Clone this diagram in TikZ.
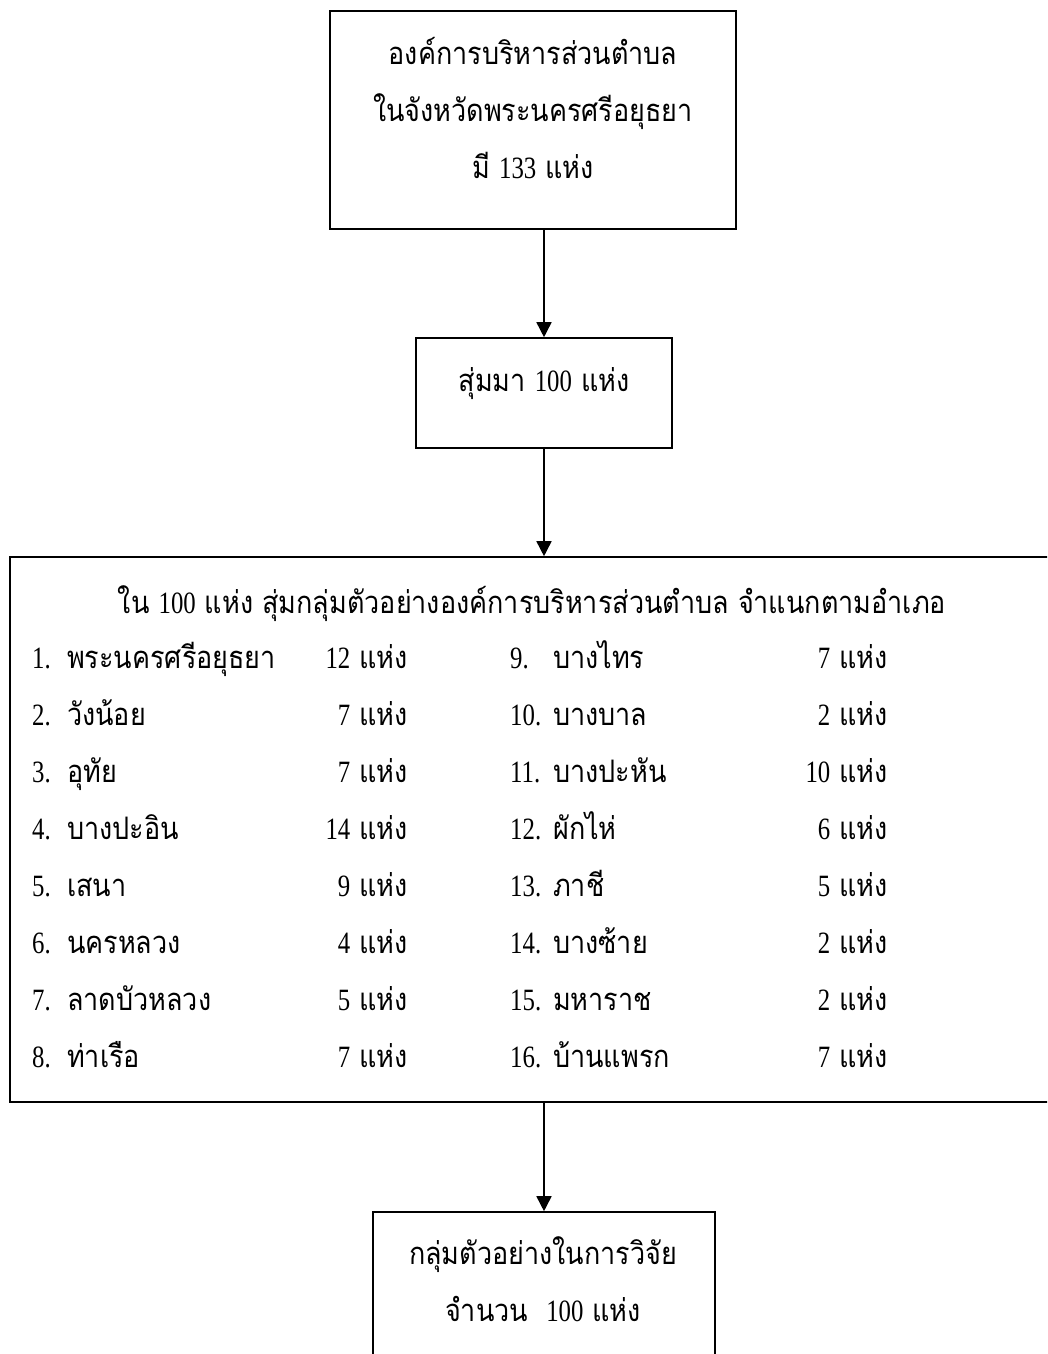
\documentclass[tikz,border=0pt]{standalone}
\usepackage{fontspec}
\setmainfont[Script=Thai, FakeStretch=0.87]{Loma}
\newfontfamily\numfont[FakeStretch=0.8]{Liberation Serif}
\usetikzlibrary{arrows.meta}
\newcommand\nm[1]{{\numfont #1}}
\newcommand\lno[1]{\makebox[35pt][l]{\nm{#1}}}
\newcommand\rno[1]{\makebox[43pt][l]{\nm{#1}}}
\tikzset{
	box/.style={draw, line width=1.6pt, inner sep=0pt},
	link/.style={line width=1.6pt, -{Triangle[length=15pt,width=15pt]}},
	txt/.style={anchor=base, inner sep=0pt, font=\fontsize{31}{38}\selectfont},
	item/.style={txt, anchor=base west},
	count/.style={txt, anchor=base east}
}

\begin{document}
\begin{tikzpicture}[x=1pt, y=-1pt]
			%%%%% START %%%%%
			\useasboundingbox (0, 0) rectangle (1047, 1354);
			\clip (0, 0) rectangle (1047, 1354);
			\fill[white] (0, 0) rectangle (1047, 1354);
			
			\node[box, minimum width=406pt, minimum height=218pt] (org) at (533, 120) {};
			\node[txt] (org1) at (533, 64) {องค์การบริหารส่วนตำบล};
			\node[txt] (org2) at (533, 121) {ในจังหวัดพระนครศรีอยุธยา};
			\node[txt] (org3) at (533, 178) {มี \nm{133} แห่ง};
			
			\node[box, minimum width=256pt, minimum height=110pt] (draw) at (544, 393) {};
			\node[txt] (draw1) at (544, 391) {สุ่มมา \nm{100} แห่ง};
			
			\node[box, minimum width=1068pt, minimum height=545pt] (list) at (544, 829.5) {};
			\node[txt] (head) at (532, 613) {ใน \nm{100} แห่ง สุ่มกลุ่มตัวอย่างองค์การบริหารส่วนตำบล จำแนกตามอำเภอ};
			
			% left column
			\node[item] (d1) at (32, 668) {\lno{1.}พระนครศรีอยุธยา};
			\node[count] (n1) at (408, 668) {\nm{12} แห่ง};
			\node[item] (d2) at (32, 725) {\lno{2.}วังน้อย};
			\node[count] (n2) at (408, 725) {\nm{7} แห่ง};
			\node[item] (d3) at (32, 782) {\lno{3.}อุทัย};
			\node[count] (n3) at (408, 782) {\nm{7} แห่ง};
			\node[item] (d4) at (32, 839) {\lno{4.}บางปะอิน};
			\node[count] (n4) at (408, 839) {\nm{14} แห่ง};
			\node[item] (d5) at (32, 896) {\lno{5.}เสนา};
			\node[count] (n5) at (408, 896) {\nm{9} แห่ง};
			\node[item] (d6) at (32, 953) {\lno{6.}นครหลวง};
			\node[count] (n6) at (408, 953) {\nm{4} แห่ง};
			\node[item] (d7) at (32, 1010) {\lno{7.}ลาดบัวหลวง};
			\node[count] (n7) at (408, 1010) {\nm{5} แห่ง};
			\node[item] (d8) at (32, 1067) {\lno{8.}ท่าเรือ};
			\node[count] (n8) at (408, 1067) {\nm{7} แห่ง};
			
			% right column
			\node[item] (d9) at (510, 668) {\rno{9.}บางไทร};
			\node[count] (n9) at (888, 668) {\nm{7} แห่ง};
			\node[item] (d10) at (510, 725) {\rno{10.}บางบาล};
			\node[count] (n10) at (888, 725) {\nm{2} แห่ง};
			\node[item] (d11) at (510, 782) {\rno{11.}บางปะหัน};
			\node[count] (n11) at (888, 782) {\nm{10} แห่ง};
			\node[item] (d12) at (510, 839) {\rno{12.}ผักไห่};
			\node[count] (n12) at (888, 839) {\nm{6} แห่ง};
			\node[item] (d13) at (510, 896) {\rno{13.}ภาชี};
			\node[count] (n13) at (888, 896) {\nm{5} แห่ง};
			\node[item] (d14) at (510, 953) {\rno{14.}บางซ้าย};
			\node[count] (n14) at (888, 953) {\nm{2} แห่ง};
			\node[item] (d15) at (510, 1010) {\rno{15.}มหาราช};
			\node[count] (n15) at (888, 1010) {\nm{2} แห่ง};
			\node[item] (d16) at (510, 1067) {\rno{16.}บ้านแพรก};
			\node[count] (n16) at (888, 1067) {\nm{7} แห่ง};
			
			\node[box, minimum width=342pt, minimum height=146pt] (sample) at (544, 1285) {};
			\node[txt] (sample1) at (543, 1264) {กลุ่มตัวอย่างในการวิจัย};
			\node[txt] (sample2) at (543, 1321) {จำนวน~ \nm{100} แห่ง};
			
			\draw[link] (org.south -| draw.north) -- (draw.north);
			\draw[link] (draw.south) -- (list.north);
			\draw[link] (list.south) -- (sample.north);
			
			%%%%% END %%%%%
\end{tikzpicture}
\end{document}
